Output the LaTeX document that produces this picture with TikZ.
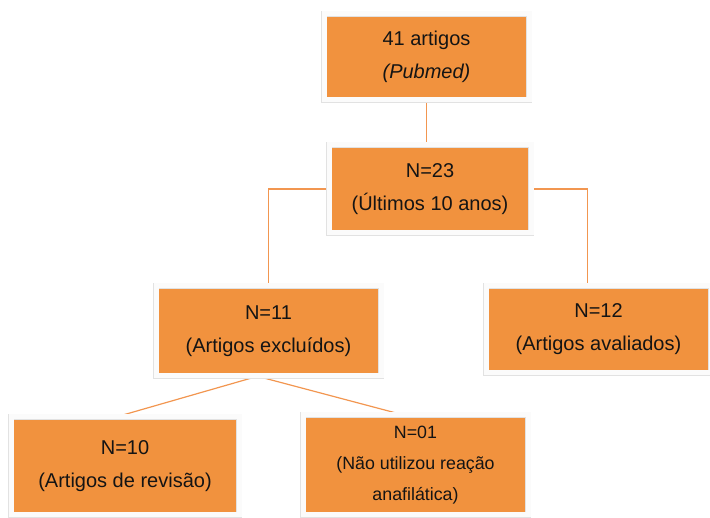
\documentclass[tikz,border=0pt]{standalone}
\usepackage{fontspec}
\setmainfont{Liberation Sans}
\usetikzlibrary{shadows, backgrounds}
\definecolor{laranja}{RGB}{241,146,62}
\definecolor{linha}{RGB}{242,150,80}
\definecolor{moldura}{RGB}{226,226,226}
\definecolor{sombra}{RGB}{190,170,160}
\tikzstyle{caixa} = [rectangle, fill=laranja, draw=moldura, double=white!97!gray, double distance=5pt, line width=0.6pt, drop shadow={shadow xshift=1.5pt, shadow yshift=-3pt, fill=sombra, opacity=1}, align=center, text=black!92, font=\fontsize{20}{33}\selectfont, inner sep=0pt]
\tikzstyle{ligacao} = [draw=linha, line width=1.2pt]

\begin{document}
\begin{tikzpicture}[x=1pt, y=-1pt]
	\useasboundingbox (0,0) rectangle (710,518);
	\node [caixa, minimum width=205, minimum height=86] (total) at (426.5,57) {41 artigos\\\textit{(Pubmed)}};
	\node [caixa, minimum width=202, minimum height=88] (recentes) at (430,189) {N=23\\(Últimos 10 anos)};
	\node [caixa, minimum width=225, minimum height=90] (excluidos) at (268.5,331) {N=11\\(Artigos excluídos)};
	\node [caixa, minimum width=225, minimum height=87] (avaliados) at (598.5,329.5) {N=12\\(Artigos avaliados)};
	\node [caixa, minimum width=228, minimum height=98] (revisao) at (125,466) {N=10\\(Artigos de revisão)};
	\node [caixa, minimum width=225, minimum height=100, font=\fontsize{17.8}{31}\selectfont] (reacao) at (415.5,465) {N=01\\(Não utilizou reação\\anafilática)};
	\coordinate (ramo) at ([xshift=-11pt]excluidos.south);
	\begin{scope}[on background layer]
		\draw [ligacao] (total.south) -- (total.south |- recentes.north);
		\draw [ligacao] (recentes.west) -| (excluidos.north);
		\draw [ligacao] (recentes.east) -| ([xshift=-11pt]avaliados.north);
		\draw [ligacao] (ramo) -- ([xshift=-8pt]revisao.north);
		\draw [ligacao] (ramo) -- ([xshift=-13pt]reacao.north);
	\end{scope}
\end{tikzpicture}
\end{document}
